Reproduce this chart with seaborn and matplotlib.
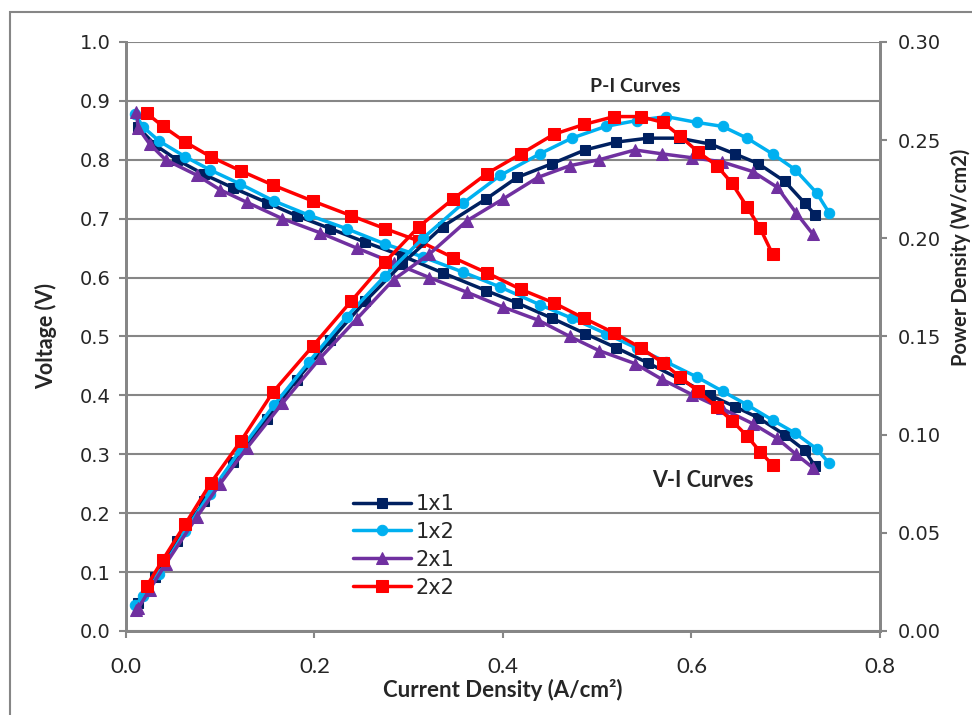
import matplotlib
matplotlib.use("Agg")
import matplotlib.pyplot as plt
import matplotlib.patches as mpatches
import seaborn as sns

# ---------------- DATA ----------------
series = ["1x1", "1x2", "2x1", "2x2"]
colors = ["#002060", "#00B0F0", "#7030A0", "#FF0000"]
markers = ["s", "o", "^", "s"]
msizes = [7.5, 7.5, 8.5, 8]

cur_1x1 = [0.013, 0.031, 0.054, 0.083, 0.114, 0.150, 0.181, 0.217, 0.254, 0.293,
           0.336, 0.382, 0.415, 0.452, 0.487, 0.520, 0.554, 0.587, 0.620, 0.646,
           0.671, 0.699, 0.720, 0.731]
v_1x1 = [0.855, 0.825, 0.800, 0.775, 0.752, 0.727, 0.705, 0.683, 0.660, 0.637,
         0.608, 0.578, 0.557, 0.531, 0.505, 0.481, 0.455, 0.428, 0.400, 0.381,
         0.362, 0.333, 0.307, 0.280]
p_1x1 = [0.0143, 0.0275, 0.046, 0.066, 0.086, 0.108, 0.128, 0.148, 0.168, 0.187,
         0.206, 0.220, 0.231, 0.238, 0.245, 0.249, 0.251, 0.251, 0.248, 0.243,
         0.238, 0.229, 0.218, 0.212]

cur_1x2 = [0.010, 0.018, 0.035, 0.063, 0.089, 0.121, 0.157, 0.194, 0.234, 0.275,
           0.315, 0.358, 0.397, 0.439, 0.473, 0.509, 0.542, 0.573, 0.606, 0.633,
           0.659, 0.686, 0.710, 0.733, 0.746]
v_1x2 = [0.877, 0.856, 0.832, 0.805, 0.783, 0.759, 0.730, 0.706, 0.683, 0.657,
         0.635, 0.609, 0.584, 0.554, 0.531, 0.505, 0.480, 0.457, 0.431, 0.407,
         0.384, 0.358, 0.336, 0.309, 0.285]
p_1x2 = [0.013, 0.018, 0.029, 0.051, 0.070, 0.092, 0.115, 0.137, 0.160, 0.181,
         0.200, 0.218, 0.232, 0.243, 0.251, 0.257, 0.260, 0.262, 0.259, 0.257,
         0.251, 0.243, 0.235, 0.223, 0.213]

cur_2x1 = [0.011, 0.013, 0.025, 0.042, 0.075, 0.100, 0.128, 0.166, 0.206, 0.245,
           0.284, 0.322, 0.362, 0.400, 0.437, 0.471, 0.502, 0.540, 0.569, 0.601,
           0.632, 0.665, 0.691, 0.711, 0.729]
v_2x1 = [0.881, 0.854, 0.827, 0.800, 0.774, 0.749, 0.728, 0.700, 0.676, 0.650,
         0.625, 0.600, 0.575, 0.550, 0.528, 0.500, 0.476, 0.454, 0.427, 0.401,
         0.378, 0.352, 0.327, 0.300, 0.277]
p_2x1 = [0.0105, 0.0115, 0.021, 0.034, 0.058, 0.075, 0.093, 0.116, 0.139, 0.159,
         0.179, 0.192, 0.209, 0.220, 0.231, 0.237, 0.240, 0.245, 0.243, 0.241,
         0.239, 0.234, 0.226, 0.213, 0.202]

cur_2x2 = [0.022, 0.039, 0.063, 0.090, 0.122, 0.156, 0.198, 0.239, 0.275, 0.311,
           0.347, 0.383, 0.419, 0.454, 0.486, 0.518, 0.546, 0.570, 0.588, 0.607,
           0.627, 0.643, 0.659, 0.673, 0.686]
v_2x2 = [0.879, 0.857, 0.830, 0.805, 0.781, 0.757, 0.730, 0.705, 0.683, 0.662,
         0.634, 0.608, 0.580, 0.557, 0.531, 0.506, 0.481, 0.455, 0.431, 0.407,
         0.380, 0.357, 0.331, 0.304, 0.282]
p_2x2 = [0.0229, 0.0362, 0.0545, 0.0754, 0.0968, 0.1217, 0.145, 0.168, 0.188, 0.206,
         0.220, 0.233, 0.243, 0.253, 0.258, 0.262, 0.262, 0.259, 0.252, 0.244,
         0.237, 0.228, 0.216, 0.205, 0.192]

currents = [cur_1x1, cur_1x2, cur_2x1, cur_2x2]
voltages = [v_1x1, v_1x2, v_2x1, v_2x2]
powers = [p_1x1, p_1x2, p_2x1, p_2x2]

# ---------------- STYLE ----------------
sns.set_style("white")
plt.rcParams["font.family"] = ["DejaVu Sans"]
gray = "#868686"
narrow = ["Liberation Sans Narrow", "Lato", "DejaVu Sans"]
bold_font = ["Lato", "DejaVu Sans"]

fig = plt.figure(figsize=(9.72, 7.15), dpi=100)
ax = fig.add_axes([0.1296, 0.1175, 0.7757, 0.8238])
ax2 = ax.twinx()

# V-I curves
for name, c, m, ms, x, v in zip(series, colors, markers, msizes, currents, voltages):
    sns.lineplot(x=x, y=v, ax=ax, color=c, marker=m, markersize=ms,
                 markeredgecolor=c, linewidth=2.5, sort=False, label=name)

# P-I curves
for c, m, ms, x, p in zip(colors, markers, msizes, currents, powers):
    sns.lineplot(x=x, y=p, ax=ax2, color=c, marker=m, markersize=ms,
                 markeredgecolor=c, linewidth=2.5, sort=False, legend=False)

# ---------------- AXES ----------------
ax.set_xlim(0, 0.8)
ax.set_ylim(0, 1.0)
ax2.set_ylim(0, 0.30)
ax.set_xticks([0.0, 0.2, 0.4, 0.6, 0.8])
ax.set_yticks([i / 10 for i in range(11)])
ax2.set_yticks([0.0, 0.05, 0.10, 0.15, 0.20, 0.25, 0.30])
ax.set_xticklabels(["0.0", "0.2", "0.4", "0.6", "0.8"], family=narrow, fontsize=16)
ax.set_yticklabels([f"{i / 10:.1f}" for i in range(11)], fontsize=14)
ax2.set_yticklabels([f"{t:.2f}" for t in [0.0, 0.05, 0.10, 0.15, 0.20, 0.25, 0.30]],
                    fontsize=14)

ax.yaxis.grid(True, color=gray, linewidth=1.5)
ax.set_axisbelow(True)
for a in (ax, ax2):
    for s in a.spines.values():
        s.set_color(gray)
        s.set_linewidth(2)
    a.spines["top"].set_visible(False)
ax.tick_params(axis="y", direction="out", length=5, width=1.5, color=gray,
               left=True, pad=6)
ax.tick_params(axis="x", direction="out", length=5, width=1.5, color=gray,
               bottom=True, pad=14)
ax2.tick_params(axis="y", direction="out", length=5, width=1.5, color=gray,
                right=True, pad=8)

ax.set_xlabel("Current Density (A/cm²)", family=narrow, fontweight="bold",
              fontsize=16, labelpad=1)
ax.set_ylabel("Voltage (V)", family=bold_font, fontweight="bold", fontsize=15.5,
              labelpad=16)
fig.text(0.988, 0.64, "Power Density (W/cm2)", rotation=90, ha="center",
         va="center", family=bold_font, fontweight="bold", fontsize=14.5)

ax.text(0.540, 0.924, "P-I Curves", ha="center", va="center",
        family=bold_font, fontweight="bold", fontsize=14)
ax.text(0.612, 0.256, "V-I Curves", ha="center", va="center",
        family=bold_font, fontweight="bold", fontsize=15.5)

leg = ax.legend(loc="upper left", bbox_to_anchor=(0.29, 0.247), frameon=False,
                fontsize=15, handlelength=2.8, labelspacing=0.38,
                handletextpad=0.2, borderaxespad=0)
ax2.set_zorder(ax.get_zorder() + 1)
ax.patch.set_visible(True)

# outer chart border (cut off at right and bottom like the reference)
fig.patches.append(mpatches.Rectangle((10 / 972, -0.1), 1.2, 0.1 + 1 - 12 / 715,
                                      transform=fig.transFigure, fill=False,
                                      edgecolor=gray, linewidth=1.5))

fig.savefig("out.png", dpi=100)
